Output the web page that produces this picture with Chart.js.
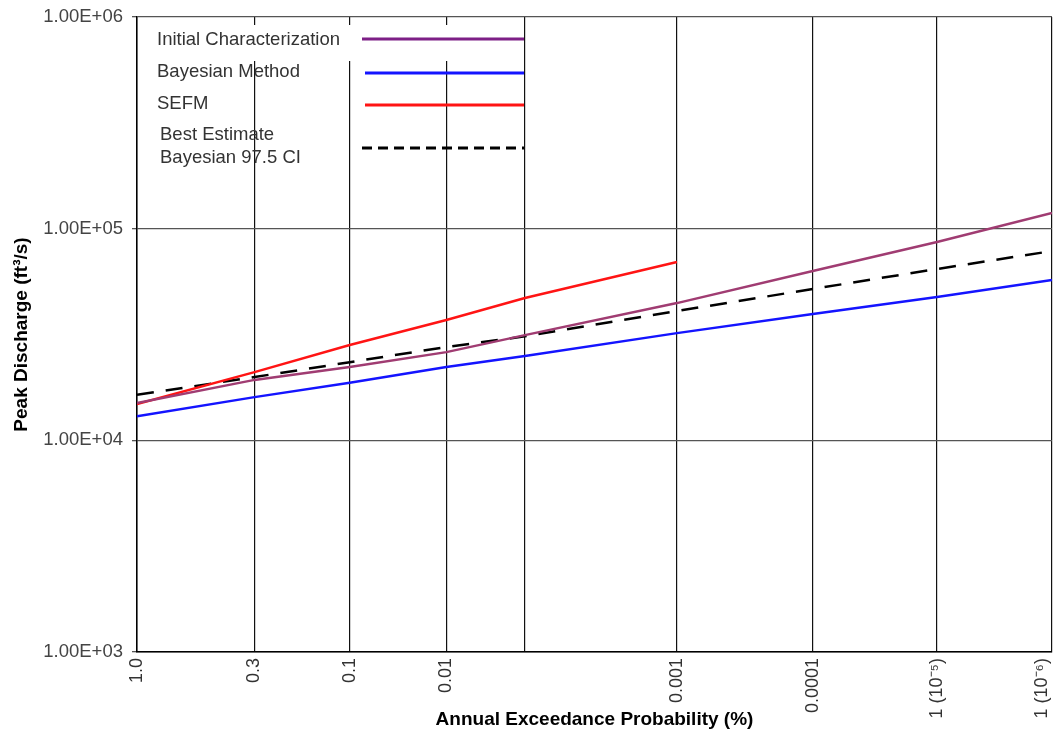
<!DOCTYPE html>
<html>
<head>
<meta charset="utf-8">
<script src="https://cdn.jsdelivr.net/npm/chart.js@4.4.1/dist/chart.umd.min.js"></script>
<style>
    html, body { margin: 0; padding: 0; background: #ffffff; }
    #wrap { width: 1053px; height: 731px; }
</style>
</head>
<body>
<div id="wrap"><canvas id="peakChart" width="1053" height="731"></canvas></div>
<script>
// x axis is a normal-probability scale (standard normal variate of 1 - p)
const xTickZ = [2.326, 2.748, 3.090, 3.437, 3.719, 4.265, 4.753, 5.199, 5.612];
const xTickLabels = ['1.0', '0.3', '0.1', '0.01', '', '0.001', '0.0001', '1 (10\u207B\u2075)', '1 (10\u207B\u2076)'];

const yTicks = [1000, 10000, 100000, 1000000];
const yTickLabels = ['1.00E+03', '1.00E+04', '1.00E+05', '1.00E+06'];

const initialCharacterization = [15000, 19300, 22200, 26100, 31400, 44500, 63100, 86500, 118600];
const bayesianMethod = [13000, 16000, 18700, 22200, 25000, 32100, 39500, 47500, 57200];
const sefm = [14850, 21000, 28200, 37000, 47000, 69600];
const bestEstimateCI = [16400, 19900, 23400, 27600, 31000, 40800, 51900, 64500, 78400];

const legendItems = [
    { text: ['Initial Characterization'], color: '#7d1f86', dash: [], textY: [40], lineY: 39, x0: 362 },
    { text: ['Bayesian Method'], color: '#1414ff', dash: [], textY: [72], lineY: 73, x0: 365 },
    { text: ['SEFM'], color: '#ff1414', dash: [], textY: [104], lineY: 105, x0: 365 },
    { text: ['Best Estimate', 'Bayesian 97.5 CI'], color: '#000000', dash: [10, 6], textY: [135, 158], lineY: 148, x0: 362 }
];

const fontFamily = '"Liberation Sans", Arial, sans-serif';
const lastTick = xTickLabels.length - 1;

function toPoints(values) {
    return values.map(function (v, i) {
        return { x: xTickZ[i], y: v };
    });
}

const legendPlugin = {
    id: 'manualLegend',
    afterDatasetsDraw: function (chart) {
        const ctx = chart.ctx;
        ctx.save();
        ctx.fillStyle = '#ffffff';
        ctx.fillRect(150, 25, 370, 36);
        ctx.font = '18.5px ' + fontFamily;
        ctx.textBaseline = 'middle';
        ctx.textAlign = 'left';
        legendItems.forEach(function (item, idx) {
            ctx.fillStyle = '#333333';
            item.text.forEach(function (t, k) {
                ctx.fillText(t, idx === 3 ? 160 : 157, item.textY[k]);
            });
            ctx.beginPath();
            ctx.strokeStyle = item.color;
            ctx.lineWidth = 3;
            ctx.setLineDash(item.dash);
            ctx.moveTo(item.x0, item.lineY);
            ctx.lineTo(524, item.lineY);
            ctx.stroke();
        });
        ctx.restore();
    }
};

// the right-most tick label is pulled inside the canvas, like the original
const lastLabelPlugin = {
    id: 'lastLabel',
    afterDraw: function (chart) {
        const scale = chart.scales.x;
        const ctx = chart.ctx;
        const px = scale.getPixelForValue(xTickZ[lastTick]) - 10;
        ctx.save();
        ctx.translate(px, chart.chartArea.bottom + 6);
        ctx.rotate(-Math.PI / 2);
        ctx.font = '18px ' + fontFamily;
        ctx.fillStyle = '#333333';
        ctx.textAlign = 'right';
        ctx.textBaseline = 'middle';
        ctx.fillText(xTickLabels[lastTick], 0, 0);
        ctx.restore();
    }
};

new Chart(document.getElementById('peakChart').getContext('2d'), {
    type: 'line',
    data: {
        datasets: [
            {
                label: 'Initial Characterization',
                data: toPoints(initialCharacterization),
                borderColor: '#a03c72',
                borderWidth: 2.5
            },
            {
                label: 'Bayesian Method',
                data: toPoints(bayesianMethod),
                borderColor: '#1414ff',
                borderWidth: 2.5
            },
            {
                label: 'SEFM',
                data: toPoints(sefm),
                borderColor: '#ff1414',
                borderWidth: 2.5
            },
            {
                label: 'Best Estimate Bayesian 97.5 CI',
                data: toPoints(bestEstimateCI),
                borderColor: '#000000',
                borderWidth: 2.5,
                borderDash: [17, 12]
            }
        ]
    },
    options: {
        responsive: false,
        animation: false,
        layout: {
            padding: { top: 17, right: 1, left: 0, bottom: 0 }
        },
        elements: {
            point: { radius: 0 },
            line: { tension: 0 }
        },
        plugins: {
            legend: { display: false },
            tooltip: { enabled: false }
        },
        scales: {
            x: {
                type: 'linear',
                min: xTickZ[0],
                max: xTickZ[lastTick],
                afterBuildTicks: function (scale) {
                    scale.ticks = xTickZ.map(function (v) { return { value: v }; });
                },
                afterFit: function (scale) {
                    scale.height = 79;
                    scale.paddingLeft = 0;
                    scale.paddingRight = 0;
                },
                grid: {
                    color: '#111111',
                    lineWidth: 1.2,
                    drawTicks: false
                },
                border: {
                    color: '#000000',
                    width: 1.5
                },
                ticks: {
                    autoSkip: false,
                    minRotation: 90,
                    maxRotation: 90,
                    padding: 6,
                    color: '#333333',
                    font: { family: fontFamily, size: 18 },
                    callback: function (value, index) {
                        return index === lastTick ? '' : xTickLabels[index];
                    }
                },
                title: {
                    display: true,
                    text: 'Annual Exceedance Probability (%)',
                    color: '#000000',
                    padding: { top: 0, bottom: 0 },
                    font: { family: fontFamily, size: 19, weight: 'bold' }
                }
            },
            y: {
                type: 'logarithmic',
                min: yTicks[0],
                max: yTicks[yTicks.length - 1],
                afterBuildTicks: function (scale) {
                    scale.ticks = yTicks.map(function (v) { return { value: v }; });
                },
                afterFit: function (scale) {
                    scale.width = 137;
                    scale.paddingTop = 0;
                    scale.paddingBottom = 0;
                },
                grid: {
                    color: '#555555',
                    lineWidth: 1.3,
                    tickLength: 5
                },
                border: {
                    color: '#000000',
                    width: 1.5
                },
                ticks: {
                    padding: 9,
                    color: '#444444',
                    font: { family: fontFamily, size: 18.5 },
                    callback: function (value, index) {
                        return yTickLabels[index];
                    }
                },
                title: {
                    display: true,
                    text: 'Peak Discharge (ft\u00B3/s)',
                    color: '#000000',
                    padding: { top: 10.6, bottom: 0 },
                    font: { family: fontFamily, size: 19, weight: 'bold' }
                }
            }
        }
    },
    plugins: [legendPlugin, lastLabelPlugin]
});
</script>
</body>
</html>
